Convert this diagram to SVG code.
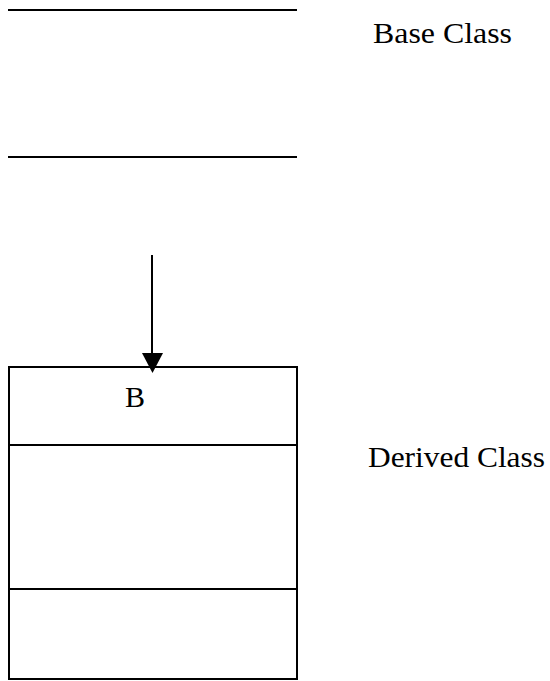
<svg xmlns="http://www.w3.org/2000/svg" width="550" height="681" viewBox="0 0 550 681">
<style>
.ln{stroke:#000;stroke-width:2;fill:none}
.t{font-family:"Liberation Serif","Times New Roman",serif;font-size:30px;fill:#000}
</style>
<rect width="550" height="681" fill="#fff"/>
<g id="base">
<line class="ln" x1="8" y1="10" x2="297" y2="10"/>
<line class="ln" x1="8" y1="157" x2="297" y2="157"/>
<text class="t" x="373" y="43" textLength="139" lengthAdjust="spacingAndGlyphs">Base Class</text>
</g>
<g id="derived">
<rect class="ln" x="9" y="367" width="288" height="312"/>
<line class="ln" x1="9" y1="445" x2="297" y2="445"/>
<line class="ln" x1="9" y1="589" x2="297" y2="589"/>
<text class="t" x="125" y="407">B</text>
<text class="t" x="368" y="467" textLength="177" lengthAdjust="spacingAndGlyphs">Derived Class</text>
</g>
<g id="connectors">
<line class="ln" x1="152" y1="255" x2="152" y2="355"/>
<path d="M142,353 L163,353 L152.5,373 Z" fill="#000"/>
</g>
</svg>
